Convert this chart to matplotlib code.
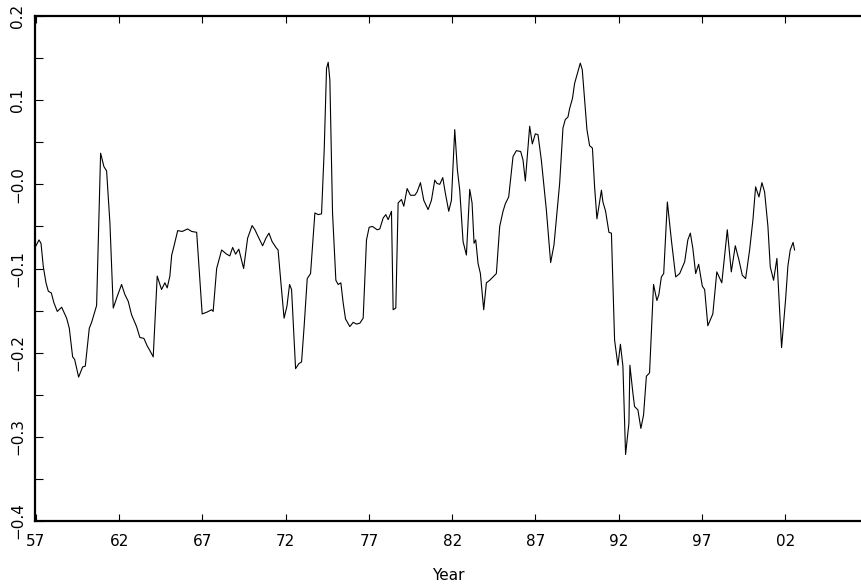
import matplotlib
matplotlib.use('Agg')
import matplotlib.pyplot as plt
import numpy as np

# series (decimal year, value)
years = [
    1957.00, 1957.18, 1957.30, 1957.44, 1957.60, 1957.74, 1957.92, 1958.08, 1958.28, 1958.54,
    1958.84, 1959.00, 1959.20, 1959.32, 1959.56, 1959.80, 1959.96, 1960.20, 1960.34, 1960.64,
    1960.88, 1961.08, 1961.24, 1961.44, 1961.64, 1961.88, 1962.14, 1962.34, 1962.54, 1962.74,
    1963.04, 1963.24, 1963.48, 1963.68, 1963.88, 1964.04, 1964.28, 1964.54, 1964.74, 1964.88,
    1965.04, 1965.15, 1965.28, 1965.51, 1965.78, 1966.11, 1966.35, 1966.65, 1966.98, 1967.25,
    1967.55, 1967.64, 1967.85, 1968.15, 1968.45, 1968.64, 1968.81, 1968.99, 1969.18, 1969.47,
    1969.71, 1969.98, 1970.15, 1970.34, 1970.61, 1970.81, 1970.99, 1971.18, 1971.41, 1971.54,
    1971.71, 1971.90, 1972.07, 1972.23, 1972.35, 1972.59, 1972.79, 1972.95, 1973.10, 1973.29,
    1973.49, 1973.75, 1973.95, 1974.15, 1974.31, 1974.45, 1974.55, 1974.65, 1974.81, 1975.01,
    1975.15, 1975.31, 1975.45, 1975.59, 1975.85, 1976.05, 1976.25, 1976.45, 1976.65, 1976.85,
    1977.01, 1977.21, 1977.49, 1977.65, 1977.85, 1978.01, 1978.15, 1978.35, 1978.45, 1978.61,
    1978.75, 1978.95, 1979.09, 1979.29, 1979.49, 1979.75, 1979.89, 1980.09, 1980.29, 1980.55,
    1980.75, 1980.95, 1981.09, 1981.25, 1981.43, 1981.59, 1981.79, 1981.95, 1982.15, 1982.31,
    1982.45, 1982.65, 1982.85, 1983.05, 1983.19, 1983.31, 1983.41, 1983.55, 1983.69, 1983.89,
    1984.05, 1984.25, 1984.45, 1984.65, 1984.85, 1985.05, 1985.19, 1985.39, 1985.65, 1985.85,
    1986.11, 1986.25, 1986.39, 1986.65, 1986.81, 1986.99, 1987.15, 1987.35, 1987.65, 1987.91,
    1988.11, 1988.45, 1988.65, 1988.79, 1988.95, 1989.05, 1989.22, 1989.35, 1989.49, 1989.69,
    1989.81, 1989.95, 1990.09, 1990.25, 1990.42, 1990.55, 1990.69, 1990.96, 1991.05, 1991.21,
    1991.41, 1991.56, 1991.75, 1991.95, 1992.10, 1992.25, 1992.41, 1992.61, 1992.67, 1992.85,
    1992.95, 1993.15, 1993.33, 1993.49, 1993.66, 1993.85, 1994.09, 1994.29, 1994.41, 1994.56,
    1994.70, 1994.92, 1995.16, 1995.42, 1995.66, 1995.96, 1996.15, 1996.30, 1996.45, 1996.62,
    1996.80, 1997.02, 1997.16, 1997.35, 1997.65, 1997.89, 1998.19, 1998.52, 1998.76, 1999.00,
    1999.22, 1999.42, 1999.62, 1999.86, 2000.06, 2000.22, 2000.42, 2000.60, 2000.76, 2000.96,
    2001.10, 2001.30, 2001.50, 2001.78, 2002.02, 2002.16, 2002.30, 2002.47, 2002.56,
]
values = [
    -0.073, -0.066, -0.070, -0.098, -0.117, -0.127, -0.129, -0.141, -0.151, -0.146,
    -0.159, -0.171, -0.205, -0.208, -0.229, -0.217, -0.216, -0.171, -0.164, -0.144,
    0.037, 0.021, 0.016, -0.046, -0.147, -0.133, -0.119, -0.131, -0.139, -0.155,
    -0.169, -0.182, -0.183, -0.192, -0.199, -0.205, -0.109, -0.125, -0.117, -0.123,
    -0.109, -0.084, -0.074, -0.055, -0.056, -0.053, -0.056, -0.057, -0.154, -0.152,
    -0.149, -0.151, -0.100, -0.078, -0.083, -0.085, -0.075, -0.083, -0.077, -0.100,
    -0.064, -0.049, -0.054, -0.062, -0.073, -0.064, -0.058, -0.068, -0.075, -0.078,
    -0.117, -0.159, -0.145, -0.119, -0.125, -0.219, -0.213, -0.211, -0.170, -0.112,
    -0.106, -0.034, -0.036, -0.035, 0.041, 0.138, 0.145, 0.124, -0.034, -0.114,
    -0.119, -0.117, -0.141, -0.160, -0.169, -0.164, -0.166, -0.165, -0.159, -0.066,
    -0.051, -0.050, -0.054, -0.053, -0.040, -0.036, -0.042, -0.032, -0.149, -0.147,
    -0.022, -0.018, -0.026, -0.005, -0.013, -0.013, -0.009, 0.002, -0.019, -0.030,
    -0.019, 0.005, 0.001, 0.000, 0.008, -0.011, -0.032, -0.019, 0.065, 0.017,
    -0.007, -0.068, -0.084, -0.006, -0.022, -0.070, -0.066, -0.094, -0.106, -0.149,
    -0.117, -0.114, -0.110, -0.106, -0.050, -0.032, -0.023, -0.015, 0.033, 0.040,
    0.039, 0.029, 0.004, 0.069, 0.048, 0.060, 0.059, 0.029, -0.030, -0.093,
    -0.072, 0.001, 0.067, 0.077, 0.080, 0.090, 0.102, 0.120, 0.130, 0.144,
    0.136, 0.100, 0.065, 0.046, 0.043, -0.003, -0.041, -0.007, -0.021, -0.032,
    -0.057, -0.058, -0.185, -0.215, -0.190, -0.216, -0.321, -0.284, -0.215, -0.248,
    -0.264, -0.268, -0.290, -0.274, -0.228, -0.224, -0.119, -0.138, -0.131, -0.110,
    -0.106, -0.021, -0.066, -0.110, -0.106, -0.092, -0.066, -0.058, -0.076, -0.106,
    -0.095, -0.121, -0.125, -0.168, -0.154, -0.104, -0.117, -0.054, -0.104, -0.073,
    -0.090, -0.108, -0.112, -0.078, -0.042, -0.003, -0.015, 0.002, -0.009, -0.050,
    -0.098, -0.114, -0.088, -0.194, -0.137, -0.097, -0.078, -0.069, -0.078,
]

x_ticks = [1957, 1962, 1967, 1972, 1977, 1982, 1987, 1992, 1997, 2002]
x_ticklabels = ['57', '62', '67', '72', '77', '82', '87', '92', '97', '02']
y_ticks = [0.2, 0.1, 0.0, -0.1, -0.2, -0.3, -0.4]
y_ticklabels = ['0.2', '0.1', '\u22120.0', '\u22120.1', '\u22120.2', '\u22120.3', '\u22120.4']

fig = plt.figure(figsize=(8.61, 5.86), dpi=100)
ax = fig.add_axes([35 / 861, 1 - 521 / 586, 1 - 35 / 861, (521 - 16) / 586])

ax.plot(years, values, color='black', linewidth=0.8)

ax.set_xlim(1956.94, 2006.55)
ax.set_ylim(-0.4, 0.2)

ax.set_xticks(x_ticks)
ax.set_xticklabels(x_ticklabels, fontsize=11)
ax.set_yticks(y_ticks)
ax.set_yticklabels(y_ticklabels, fontsize=11, rotation=90, va='center')
ax.set_yticks(np.arange(-0.35, 0.2, 0.1), minor=True)

ax.tick_params(axis='x', which='both', direction='in', top=True, length=5, width=0.8, pad=9)
ax.tick_params(axis='y', which='both', direction='in', length=6, width=0.8, pad=7)

for side in ['left', 'bottom', 'top']:
    ax.spines[side].set_linewidth(1.6)
ax.spines['right'].set_visible(False)

ax.set_xlabel('Year', fontsize=11, labelpad=14)

fig.savefig('out.png', dpi=100)
